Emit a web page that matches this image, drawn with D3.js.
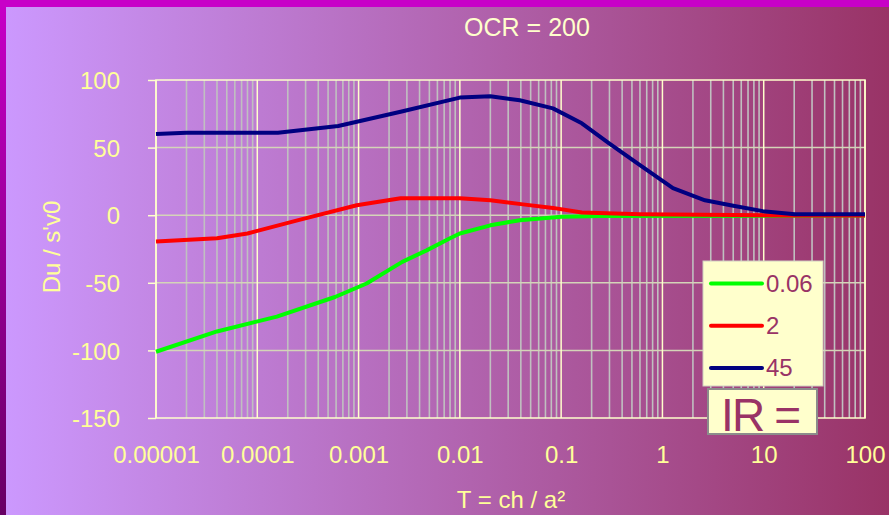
<!DOCTYPE html>
<html>
<head>
<meta charset="utf-8">
<script src="https://cdn.jsdelivr.net/npm/d3@7"></script>
<style>
  body { margin: 0; }
  #chart { width: 889px; height: 515px; }
  text { font-family: "Liberation Sans", Arial, sans-serif; }
</style>
</head>
<body>
<div id="chart"></div>
<script>
// chart values
const xTickValues = [0.00001, 0.0001, 0.001, 0.01, 0.1, 1, 10, 100];
const xTickLabels = ["0.00001", "0.0001", "0.001", "0.01", "0.1", "1", "10", "100"];
const yTickValues = [100, 50, 0, -50, -100, -150];

const seriesNames = ["0.06", "2", "45"];
const seriesColors = ["#00FF00", "#FF0000", "#000080"];

const greenT = [0.00001, 0.00004, 0.000156, 0.000585, 0.0012, 0.0027, 0.0047, 0.008, 0.01, 0.02, 0.039, 0.1, 0.24, 100];
const greenDu = [-101, -86, -75, -60.5, -50.5, -34.5, -26, -17, -13.5, -7.5, -3.7, -1.2, -0.5, -0.3];

const redT = [0.00001, 0.00004, 0.00008, 0.00026, 0.00096, 0.0026, 0.01, 0.02, 0.042, 0.083, 0.16, 0.6, 20, 100];
const redDu = [-19.5, -17, -13.5, -3.5, 7.4, 12.5, 12.5, 11, 8, 5.4, 2, 0.7, -0.3, -0.3];

const navyT = [0.00001, 0.00002, 0.00016, 0.00063, 0.0026, 0.01, 0.02, 0.039, 0.083, 0.16, 0.3, 0.6, 1.27, 2.63, 5, 9.8, 20.3, 100];
const navyDu = [60, 61, 61, 66, 76.5, 87, 88, 85, 79, 68, 53, 37, 20, 11, 7, 3, 0.7, 0.7];

const width = 889;
const height = 515;
const margin = { top: 80, left: 156, right: 24, bottom: 97 };

const svg = d3.select("#chart")
    .append("svg")
    .attr("width", width)
    .attr("height", height);

const defs = svg.append("defs");
const bg = defs.append("linearGradient").attr("id", "bg").attr("x1", 0).attr("x2", 1).attr("y1", 0).attr("y2", 0);
bg.append("stop").attr("offset", 0).attr("stop-color", "#CC99FF");
bg.append("stop").attr("offset", 1).attr("stop-color", "#993366");
const edge = defs.append("linearGradient").attr("id", "edge").attr("x1", 0).attr("x2", 0).attr("y1", 0).attr("y2", 1);
edge.append("stop").attr("offset", 0).attr("stop-color", "#C800C8");
edge.append("stop").attr("offset", 1).attr("stop-color", "#680064");

svg.append("rect").attr("width", width).attr("height", height).attr("fill", "url(#bg)");
svg.append("rect").attr("width", 6).attr("height", height).attr("fill", "url(#edge)");
svg.append("rect").attr("width", width).attr("height", 7).attr("fill", "#C800C8");

const xScale = d3.scaleLog()
    .domain([0.00001, 100])
    .range([margin.left, width - margin.right]);

const yScale = d3.scaleLinear()
    .domain([-150, 100])
    .range([height - margin.bottom, margin.top]);

const x0 = xScale.range()[0], x1 = xScale.range()[1];
const y0 = yScale.range()[0], y1 = yScale.range()[1];

// minor vertical grid (2..9 in each decade)
const minorTicks = [];
for (let e = -5; e < 2; e++) {
    for (let k = 2; k <= 9; k++) minorTicks.push(k * Math.pow(10, e));
}
svg.append("g")
    .selectAll("line")
    .data(minorTicks)
    .enter()
    .append("line")
    .attr("x1", d => xScale(d)).attr("x2", d => xScale(d))
    .attr("y1", y1).attr("y2", y0)
    .attr("stroke", "#C0C0C0")
    .attr("stroke-width", 1.6);

// horizontal grid
svg.append("g")
    .selectAll("line")
    .data(yTickValues.filter(d => d > -150 && d < 100))
    .enter()
    .append("line")
    .attr("x1", x0).attr("x2", x1)
    .attr("y1", d => yScale(d)).attr("y2", d => yScale(d))
    .attr("stroke", "#D4D4B8")
    .attr("stroke-width", 1.5);

// major vertical grid
svg.append("g")
    .selectAll("line")
    .data(xTickValues)
    .enter()
    .append("line")
    .attr("x1", d => xScale(d)).attr("x2", d => xScale(d))
    .attr("y1", y1).attr("y2", y0)
    .attr("stroke", "#FFFFCC")
    .attr("stroke-width", 1.5);

// plot border
svg.append("rect")
    .attr("x", x0).attr("y", y1)
    .attr("width", x1 - x0).attr("height", y0 - y1)
    .attr("fill", "none")
    .attr("stroke", "#FFFFCC")
    .attr("stroke-width", 1.5);

// axes
const yAxis = svg.append("g")
    .attr("transform", `translate(${x0},0)`)
    .call(d3.axisLeft(yScale).tickValues(yTickValues)
        .tickFormat(d => String(d)).tickSize(8).tickPadding(28));
yAxis.select(".domain").remove();
yAxis.selectAll("line").attr("stroke", "#FFFFCC").attr("stroke-width", 1.5);
yAxis.selectAll("text")
    .attr("fill", "#FFFF99")
    .attr("font-size", 24)
    .attr("font-family", "Liberation Sans, Arial, sans-serif")
    .attr("dy", "0.36em");

const xAxis = svg.append("g")
    .attr("transform", `translate(0,${y0})`)
    .call(d3.axisBottom(xScale).tickValues(xTickValues)
        .tickFormat((d, i) => xTickLabels[i]).tickSize(0).tickPadding(28));
xAxis.select(".domain").remove();
xAxis.selectAll("text")
    .attr("fill", "#FFFF99")
    .attr("font-size", 24)
    .attr("font-family", "Liberation Sans, Arial, sans-serif");

// series lines
const line = d3.line()
    .x(d => xScale(d[0]))
    .y(d => yScale(d[1]));

const series = [
    { name: seriesNames[0], color: seriesColors[0], pts: d3.zip(greenT, greenDu) },
    { name: seriesNames[1], color: seriesColors[1], pts: d3.zip(redT, redDu) },
    { name: seriesNames[2], color: seriesColors[2], pts: d3.zip(navyT, navyDu) }
];

svg.append("g")
    .selectAll("path")
    .data(series)
    .enter()
    .append("path")
    .attr("d", d => line(d.pts))
    .attr("fill", "none")
    .attr("stroke", d => d.color)
    .attr("stroke-width", 4)
    .attr("stroke-linejoin", "round");

// legend
const legend = svg.append("g").attr("transform", "translate(703,261)");
legend.append("rect")
    .attr("width", 120).attr("height", 125)
    .attr("fill", "#FFFFCC")
    .attr("stroke", "#D0D0C0")
    .attr("stroke-width", 1);
const items = legend.selectAll("g.item")
    .data(series)
    .enter()
    .append("g")
    .attr("class", "item")
    .attr("transform", (d, i) => `translate(0,${22.5 + i * 42.2})`);
items.append("line")
    .attr("x1", 8).attr("x2", 59)
    .attr("stroke", d => d.color)
    .attr("stroke-width", 4)
    .attr("stroke-linecap", "round");
items.append("text")
    .attr("x", 63)
    .attr("y", 8)
    .attr("fill", "#993366")
    .attr("font-size", 24)
    .text(d => d.name);

// IR = box
svg.append("rect")
    .attr("x", 708).attr("y", 389)
    .attr("width", 109).attr("height", 45)
    .attr("fill", "#FFFFCC")
    .attr("stroke", "#8C8C8C")
    .attr("stroke-width", 2);
svg.append("text")
    .attr("x", 721)
    .attr("y", 431)
    .attr("fill", "#993366")
    .attr("font-size", 46)
    .attr("textLength", 80)
    .text("IR =");

// titles
svg.append("text")
    .attr("x", 527)
    .attr("y", 36)
    .attr("text-anchor", "middle")
    .attr("fill", "#FFFFCC")
    .attr("font-size", 25)
    .text("OCR = 200");

svg.append("text")
    .attr("x", 511)
    .attr("y", 508)
    .attr("text-anchor", "middle")
    .attr("fill", "#FFFF99")
    .attr("font-size", 24)
    .text("T = ch / a²");

svg.append("text")
    .attr("transform", "rotate(-90)")
    .attr("x", -247)
    .attr("y", 60)
    .attr("text-anchor", "middle")
    .attr("fill", "#FFFF99")
    .attr("font-size", 24)
    .text("Du / s'v0");
</script>
</body>
</html>
